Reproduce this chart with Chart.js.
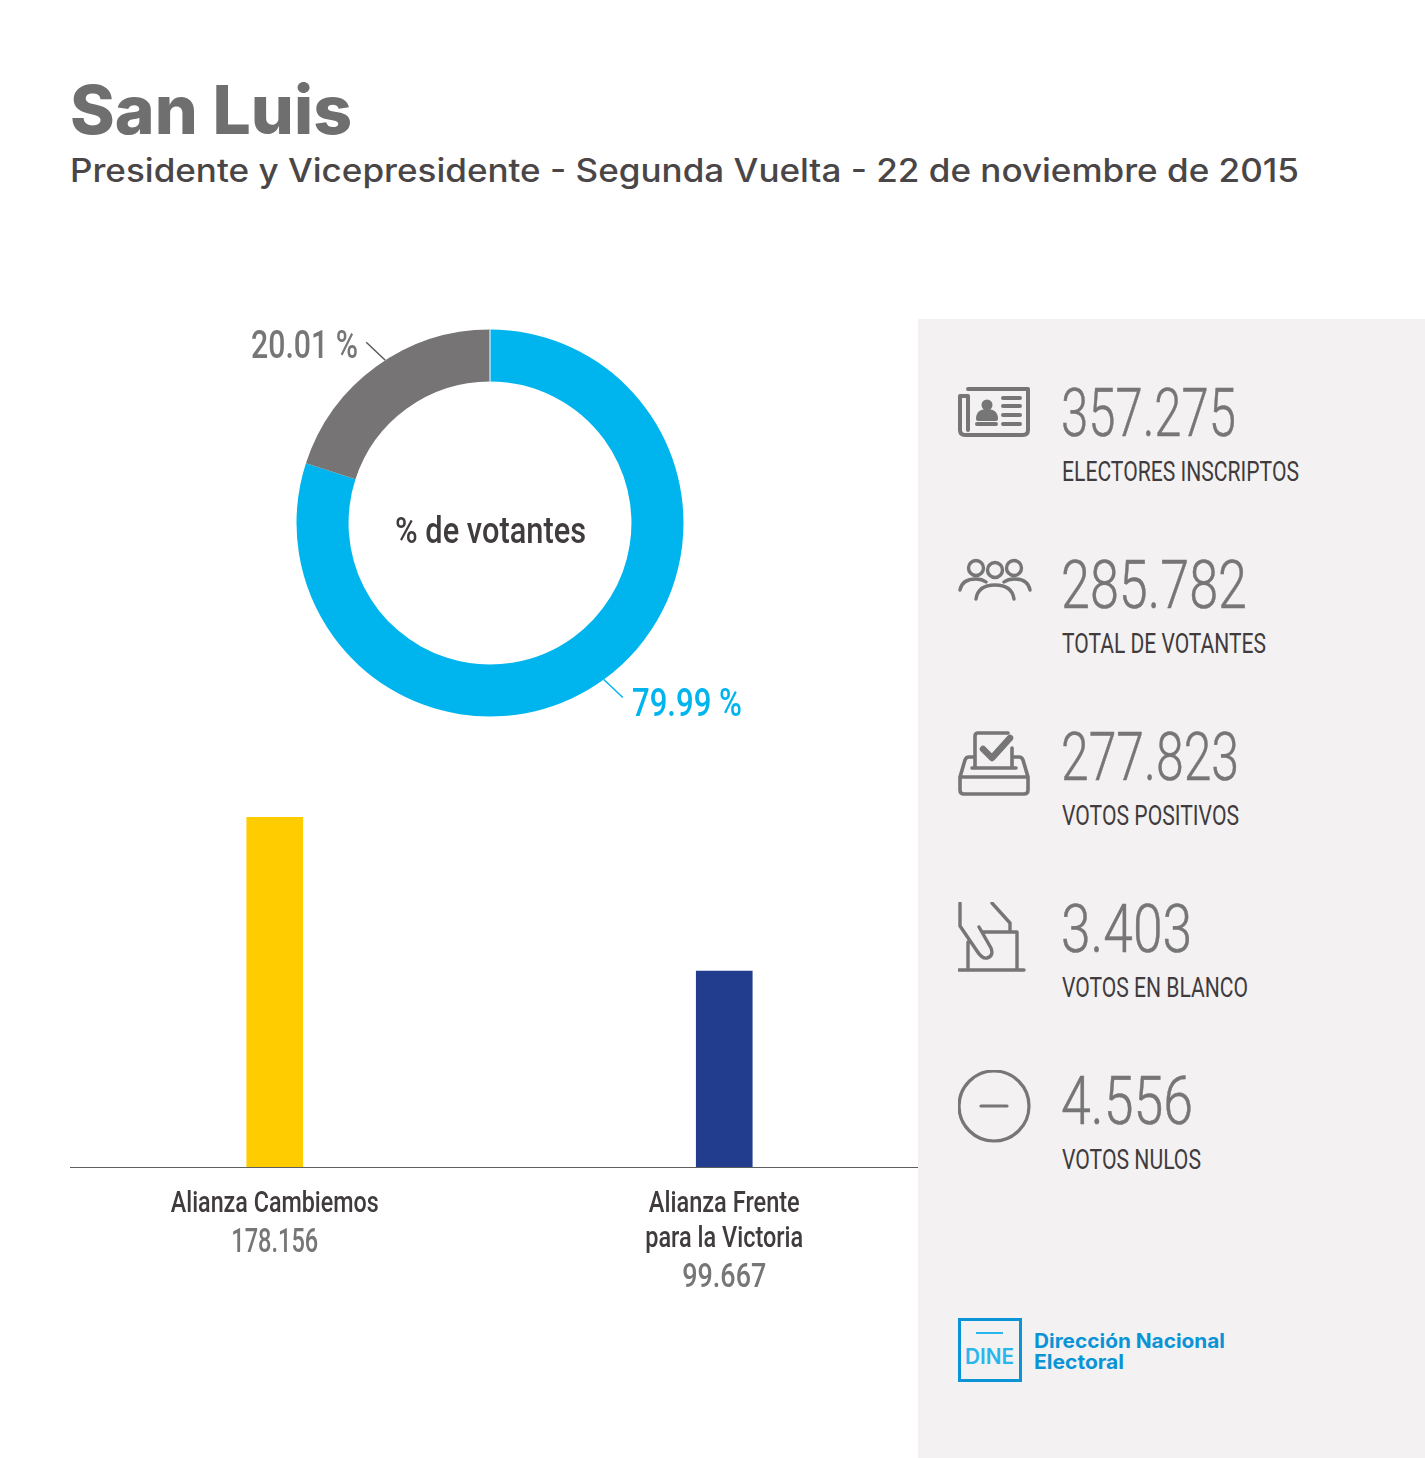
<!DOCTYPE html>
<html>
<head>
<meta charset="utf-8">
<script src="https://cdn.jsdelivr.net/npm/chart.js@4"></script>
<style>
  html, body { margin: 0; background: #fff; }
  #page { position: relative; width: 1425px; height: 1458px; overflow: hidden; background: #fff; }
  #page > * { position: absolute; }
  .fit { white-space: nowrap; transform-origin: 0 0; line-height: 1; }
  #panel { left: 918px; top: 319px; width: 507px; height: 1139px; background: #f3f1f2; }
  #title { left: 70px; top: 69px; font: 800 67px Inter; color: #6f6f6f; }
  #subtitle { left: 70px; top: 151px; font: 500 32px Inter; color: #4a4647; }
  .num { left: 1061px; font: 300 67px Roboto; color: #767676; -webkit-text-stroke: 0.5px #767676; }
  .lab { left: 1062px; font: 400 28px Roboto; color: #403b3c; }
  .pct { font: 500 38px Roboto; }
  #center { left: 395px; top: 509px; font: 500 37px Roboto; color: #403b3c; }
  #dine1, #dine2 { left: 1034px; font: 700 20px Inter; color: #0a94d6; }
  #dinebox { left: 958px; top: 1318px; width: 58px; height: 58px; border: 3px solid #0a94d6; }
  #dinebar { left: 976px; top: 1332px; width: 27px; height: 2px; background: #29b6ec; }
  #dinetext { left: 965px; top: 1344px; font: 600 21px Inter; color: #29b6ec; }
  svg { fill: none; stroke: #767676; stroke-linecap: round; stroke-linejoin: round; }
</style>
</head>
<body>
<div id="page">
  <div id="panel"></div>
  <div id="title" class="fit" data-w="282">San Luis</div>
  <div id="subtitle" class="fit" data-w="1229">Presidente y Vicepresidente - Segunda Vuelta - 22 de noviembre de 2015</div>

  <canvas id="donut" width="400" height="400" style="left:290px;top:323px"></canvas>
  <div id="center" class="fit" data-w="191">% de votantes</div>
  <div id="pct0" class="fit pct" data-w="110" style="left:632px;top:681px;color:#00b5ee"></div>
  <div id="pct1" class="fit pct" data-w="107" style="left:251px;top:323px;color:#767676"></div>

  <canvas id="bars" width="899" height="507" style="left:50px;top:800px"></canvas>

  <!-- icons -->
  <svg style="left:958px;top:386px" width="72" height="52" viewBox="0 0 72 52" stroke-width="4">
    <path d="M10 3H70V44Q70 49 65 49H7Q2 49 2 44V10H10V44"/>
    <circle cx="29" cy="19" r="5.5" fill="#767676" stroke="none"/>
    <path d="M20 33Q20 25 29 25Q38 25 38 33Z" fill="#767676"/>
    <path d="M45 12H62M45 20H62M45 29H62M45 38H62M19 38H38"/>
  </svg>
  <svg style="left:958px;top:558px" width="74" height="44" viewBox="0 0 74 44" stroke-width="3.4">
    <circle cx="18" cy="10" r="7.5"/><circle cx="37" cy="12" r="7.5"/><circle cx="56" cy="10" r="7.5"/>
    <path d="M2 32Q4 21 18 21Q24 21 28 24M72 32Q70 21 56 21Q50 21 46 24M18 41Q20 27 37 27Q54 27 56 41"/>
  </svg>
  <svg style="left:958px;top:730px" width="72" height="66" viewBox="0 0 72 66" stroke-width="3.6">
    <path d="M17 37V6Q17 3 20 3H50M54 18V37M14 38H58"/>
    <path d="M25 19L34 28L52 8" stroke-width="6.5"/>
    <path d="M16 27H11Q8 27 7 30L2 47V60Q2 64 6 64H66Q70 64 70 60V47L65 30Q64 27 61 27H56M2 47H70"/>
  </svg>
  <svg style="left:958px;top:902px" width="70" height="72" viewBox="0 0 70 72" stroke-width="3.4">
    <path d="M2 1V24L19 49Q24 57 29 56Q36 54 33 46L21 25M34 1L52 21V30H25M52 30H59V68M10 40V68M1 68H66"/>
  </svg>
  <svg style="left:958px;top:1070px" width="74" height="74" viewBox="0 0 74 74" stroke-width="3.2">
    <circle cx="36" cy="36" r="35"/><path d="M23 36H49"/>
  </svg>

  <div id="dinebox"></div><div id="dinebar"></div>
  <div id="dinetext" class="fit" data-w="49">DINE</div>
  <div id="dine1" class="fit" data-w="191" style="top:1329px">Dirección Nacional</div>
  <div id="dine2" class="fit" data-w="90" style="top:1350px">Electoral</div>
</div>

<script>
const turnoutLabels = ['79.99 %', '20.01 %'];
const turnoutValues = [79.99, 20.01];
const turnoutColors = ['#00b5ee', '#767474'];

const partyNames = [['Alianza Cambiemos'], ['Alianza Frente', 'para la Victoria']];
const partyVotes = [178156, 99667];
const partyVotesText = ['178.156', '99.667'];
const partyColors = ['#ffcc00', '#233d8e'];

const statValues = ['357.275', '285.782', '277.823', '3.403', '4.556'];
const statLabels = ['ELECTORES INSCRIPTOS', 'TOTAL DE VOTANTES', 'VOTOS POSITIVOS', 'VOTOS EN BLANCO', 'VOTOS NULOS'];
const statValueWidths = [175, 186, 178, 131, 132];
const statLabelWidths = [237, 204, 177, 186, 139];

const page = document.getElementById('page');

statValues.forEach((v, i) => {
  const n = document.createElement('div');
  n.className = 'fit num';
  n.textContent = v;
  n.dataset.w = statValueWidths[i];
  n.style.top = (374 + i * 172) + 'px';
  page.appendChild(n);
  const l = document.createElement('div');
  l.className = 'fit lab';
  l.textContent = statLabels[i];
  l.dataset.w = statLabelWidths[i];
  l.style.top = (455 + i * 172) + 'px';
  page.appendChild(l);
});
turnoutLabels.forEach((t, i) => { document.getElementById('pct' + i).textContent = t; });

// squeeze text to the measured widths of the original type
document.fonts.ready.then(() => {
  document.querySelectorAll('.fit').forEach(el => {
    const w = el.getBoundingClientRect().width;
    el.style.transform = 'scaleX(' + (el.dataset.w / w) + ')';
  });
});

const leaderAnchor = [0.5, 0.545];
const leaderLines = {
  id: 'leaderLines',
  afterDatasetsDraw(chart) {
    const { ctx } = chart;
    const arcs = chart.getDatasetMeta(0).data;
    // hairline where the series starts at 12 o'clock
    const first = arcs[0];
    ctx.save();
    ctx.strokeStyle = '#fff';
    ctx.lineWidth = 1;
    ctx.beginPath();
    ctx.moveTo(first.x, first.y - first.innerRadius);
    ctx.lineTo(first.x, first.y - first.outerRadius);
    ctx.stroke();
    arcs.forEach((arc, i) => {
      const a = arc.startAngle + (arc.endAngle - arc.startAngle) * leaderAnchor[i];
      const x = arc.x + Math.cos(a) * arc.outerRadius;
      const y = arc.y + Math.sin(a) * arc.outerRadius;
      ctx.strokeStyle = i === 0 ? turnoutColors[0] : '#5a5a5a';
      ctx.lineWidth = 1.5;
      ctx.beginPath();
      ctx.moveTo(x, y);
      ctx.lineTo(x + Math.sign(Math.cos(a)) * 19, y + Math.sign(Math.sin(a)) * 18);
      ctx.stroke();
    });
    ctx.restore();
  },
};

new Chart(document.getElementById('donut').getContext('2d'), {
  type: 'doughnut',
  data: {
    labels: turnoutLabels,
    datasets: [{ data: turnoutValues, backgroundColor: turnoutColors, borderWidth: 0 }],
  },
  options: {
    responsive: false,
    animation: false,
    radius: 193.5,
    cutout: '73.1%',
    plugins: { legend: { display: false }, tooltip: { enabled: false } },
  },
  plugins: [leaderLines],
});

// squeezed text, there is no condensed face to hand
const squeezed = (ctx, text, x, y, w) => {
  ctx.save();
  ctx.translate(x, y);
  ctx.scale(w / ctx.measureText(text).width, 1);
  ctx.fillText(text, 0, 0);
  ctx.restore();
};

const nameWidths = [[208], [151, 158]];
const voteWidths = [87, 84];

// baseline runs 70..918 while the categories are spaced over a wider band
const baseline = {
  id: 'baseline',
  afterDatasetsDraw(chart) {
    const { ctx } = chart;
    const y = chart.scales.y.getPixelForValue(0);
    ctx.save();
    ctx.strokeStyle = '#5f5f5f';
    ctx.lineWidth = 1;
    ctx.beginPath();
    ctx.moveTo(20, y + 0.5);
    ctx.lineTo(868, y + 0.5);
    ctx.stroke();
    ctx.textAlign = 'center';
    ctx.textBaseline = 'middle';
    partyVotesText.forEach((t, i) => {
      const x = chart.scales.x.getPixelForValue(i);
      ctx.fillStyle = '#403b3c';
      ctx.font = '500 29px Roboto';
      partyNames[i].forEach((line, j) => squeezed(ctx, line, x, y + 38 + j * 35, nameWidths[i][j]));
      ctx.fillStyle = '#767676';
      ctx.font = '500 34px Roboto';
      squeezed(ctx, t, x, y + 76 + (partyNames[i].length - 1) * 35, voteWidths[i]);
    });
    ctx.restore();
  },
};

new Chart(document.getElementById('bars').getContext('2d'), {
  type: 'bar',
  data: {
    labels: partyNames,
    datasets: [{ data: partyVotes, backgroundColor: partyColors, barThickness: 56 }],
  },
  options: {
    responsive: false,
    animation: false,
    layout: { padding: { top: 17 } },
    scales: {
      x: {
        grid: { display: false },
        border: { display: false },
        afterFit: scale => { scale.height = 140; },
        ticks: { display: false },
      },
      y: { display: false, min: 0, max: 178156 },
    },
    plugins: { legend: { display: false }, tooltip: { enabled: false } },
  },
  plugins: [baseline],
});
</script>
</body>
</html>
